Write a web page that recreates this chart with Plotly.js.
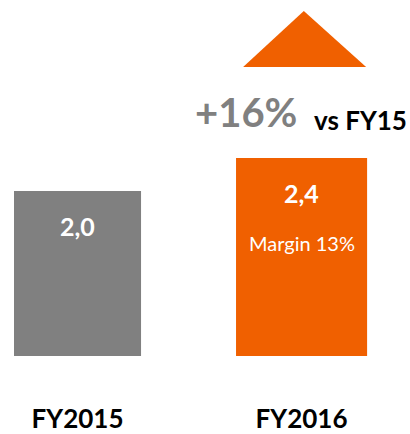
<!DOCTYPE html>
<html>
<head>
<meta charset="utf-8">
<script src="https://cdn.plot.ly/plotly-3.0.1.min.js"></script>
<style>html,body{margin:0;padding:0;background:#fff;}#chart{width:410px;height:434px;}</style>
</head>
<body>
<div id="chart"></div>
<script>
const categories = ['FY2015', 'FY2016'];
const values = [2.0, 2.4];
const barColors = ['#808080', '#F06000'];
const valueLabels = values.map(v => v.toFixed(1).replace('.', ','));
const marginLabel = 'Margin 13%';
const growthLabel = '+16%';
const growthSuffix = 'vs FY15';

const FONT = 'Lato, "Open Sans", sans-serif';

const trace = {
  type: 'bar',
  x: categories,
  y: values,
  width: [0.567, 0.585],
  marker: {color: barColors, line: {width: 0}},
  hoverinfo: 'skip'
};

const annotations = [];
categories.forEach((c, i) => {
  annotations.push({
    x: c, y: values[i], xref: 'x', yref: 'y',
    text: '<b>' + valueLabels[i] + '</b>', showarrow: false,
    yshift: -35, yanchor: 'middle', xanchor: 'center',
    font: {family: FONT, size: 25, color: '#ffffff'}
  });
});
annotations.push({
  x: categories[1], y: values[1], xref: 'x', yref: 'y',
  text: marginLabel, showarrow: false, yshift: -85, yanchor: 'middle',
  font: {family: FONT, size: 20, color: '#ffffff'}
});
annotations.push({
  x: categories[1], xref: 'x', y: 0.686, yref: 'paper',
  text: '<b>' + growthLabel + '</b>', showarrow: false, xanchor: 'right', xshift: -3, yanchor: 'middle',
  font: {family: FONT, size: 40, color: '#808080'}
});
annotations.push({
  x: categories[1], xref: 'x', y: 0.664, yref: 'paper',
  text: '<b>' + growthSuffix + '</b>', showarrow: false, xanchor: 'left', xshift: 10, yanchor: 'middle',
  font: {family: FONT, size: 26, color: '#000000'}
});

const layout = {
  width: 410, height: 434,
  margin: {l: 0, r: 0, t: 0, b: 78, pad: 0},
  paper_bgcolor: '#ffffff', plot_bgcolor: '#ffffff',
  showlegend: false,
  separators: ',.',
  xaxis: {
    type: 'category', range: [-0.346, 1.484],
    showgrid: false, zeroline: false, showline: false, ticks: '',
    ticklabelstandoff: 45,
    tickfont: {family: FONT, size: 26, color: '#000000', weight: 'bold'}
  },
  yaxis: {
    range: [0, 4.315], visible: false, showgrid: false, zeroline: false
  },
  shapes: [{
    type: 'path', xref: 'paper', yref: 'paper',
    path: 'M 0.593 0.812 L 0.741 0.969 L 0.893 0.812 Z',
    fillcolor: '#F06000', line: {width: 0}
  }],
  annotations: annotations
};

Plotly.newPlot('chart', [trace], layout, {displayModeBar: false, staticPlot: true});
</script>
</body>
</html>
